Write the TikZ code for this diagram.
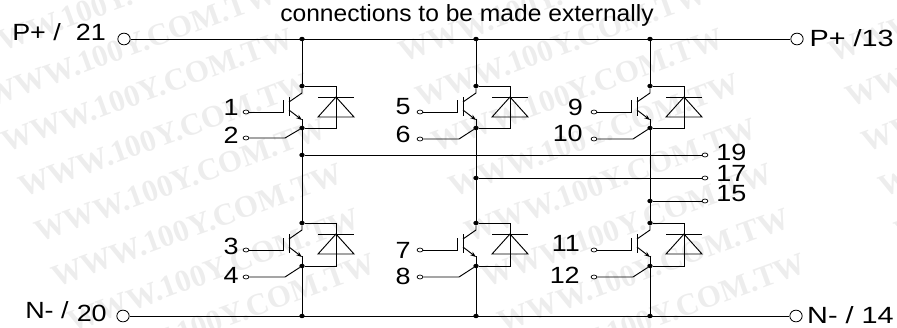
\documentclass[tikz,border=0pt]{standalone}
\usepackage{fontspec}
\setmainfont{Liberation Sans}
\newfontfamily\markfont{Liberation Serif}
\usetikzlibrary{shapes.geometric,positioning,arrows.meta}
\definecolor{markgray}{gray}{0.93}
\tikzset{
    wire/.style={line width=0.8pt},
    junction/.style={ellipse, fill=black, inner sep=0pt, minimum width=4.6pt, minimum height=3.8pt},
    pinsmall/.style={ellipse, draw, line width=0.6pt, fill=white, inner sep=0pt, minimum width=5pt, minimum height=3.4pt},
    pinbig/.style={ellipse, draw, line width=0.7pt, fill=white, inner sep=0pt, minimum width=10.5pt, minimum height=10pt},
    lab/.style={inner sep=0pt, xscale=1.15, font=\fontsize{20}{24}\selectfont},
    labwide/.style={inner sep=0pt, xscale=1.23, font=\fontsize{20}{24}\selectfont},
    note/.style={inner sep=0pt, xscale=1.05, font=\fontsize{20}{24}\selectfont}
}
\begin{document}
\begin{tikzpicture}[x=0.03cm, y=-0.03cm]
    \useasboundingbox (0,0) rectangle (897,327);
    \clip (0,0) rectangle (897,327);

    % Watermark
    \foreach \i in {0,1,2} {
        \foreach \j in {-3,...,4} {
            \node[anchor=west, inner sep=0pt, rotate=20, text=markgray, font=\markfont\bfseries\fontsize{26.5}{30}\selectfont]
                (wm\i\j) at ({3+430*\i+16.5*(\j+1)},{143+45*(\j+1)}) {WWW.100Y.COM.TW};
        }
    }

    \node[note] (caption) at (467,15) {connections to be made externally};

    % Supply rails
    \node[pinbig] (p21) at (124,39) {};
    \node[pinbig] (p13) at (797,39) {};
    \node[pinbig] (n20) at (123,316) {};
    \node[pinbig] (n14) at (796,316) {};
    \node[lab, anchor=west] (lp21) at (12,32) {P+ /\ \ 21};
    \node[labwide, anchor=east] (lp13) at (894,38) {P+ /13};
    \node[labwide, anchor=east] (ln14) at (894,315) {N- / 14};
    \node[lab, anchor=west] (ln20) at (25,310) {N- /};
    \node[lab, anchor=east] (l20) at (107,313) {20};
    \draw[wire] (p21) -- (p13);
    \draw[wire] (n20) -- (n14);

    % Transistor and diode cells
    \foreach \cell/\cx/\cy/\ey/\gy/\sy/\tx/\gate/\sense/\lx/\gly/\sly in {
        a/302/86/128/112/138/246/1/2/239/107/135,
        b/476/86/128/112/139/420/5/6/411/107/134,
        c/650/86/128/112/139/594/9/10/583/107/133,
        d/302/223/266/250/277/246/3/4/239/246/275,
        e/476/223/266/250/277/420/7/8/411/250/276,
        f/650/223/266/250/277/594/11/12/580/243/275} {
        \node[junction] (col\cell) at (\cx,\cy) {};
        \node[junction] (emi\cell) at (\cx,\ey) {};
        \node[pinsmall] (pin\gate) at (\tx,\gy) {};
        \node[pinsmall] (pin\sense) at (\tx,\sy) {};
        \node[lab, anchor=east] (lab\gate) at (\lx,\gly) {\gate};
        \node[lab, anchor=east] (lab\sense) at (\lx,\sly) {\sense};
        % gate and sense leads
        \draw[wire] (pin\gate) -- (\cx-19,\gy);
        \draw[wire] (\cx-19,\gy-12) -- (\cx-19,\gy+1);
        \draw[wire] (\cx-13,\cy+11) -- (\cx-13,\cy+30);
        \draw[wire] (pin\sense) -- (\cx-17,\sy) -- (emi\cell);
        % collector and emitter
        \draw[wire] (col\cell) -- (\cx,\cy+7) -- (\cx-13,\cy+16);
        \draw[wire, -{Stealth[length=5pt,width=3.6pt]}] (\cx-13,\cy+24) -- (\cx,\cy+34);
        \draw[wire] (\cx,\cy+33) -- (emi\cell);
        % free-wheeling diode
        \draw[wire] (col\cell) -- (\cx+34,\cy) -- (\cx+34,\ey) -- (emi\cell);
        \draw[wire] (\cx+16,\cy+11) -- (\cx+52,\cy+11);
        \draw[wire] (\cx+34,\cy+11) -- (\cx+52,\cy+31) -- (\cx+16,\cy+31) -- cycle;
    }

    % Rail taps
    \foreach \n/\cx in {1/302,2/476,3/650} {
        \node[junction] (top\n) at (\cx,39) {};
        \node[junction] (bot\n) at (\cx,316) {};
    }
    \draw[wire] (top1) -- (cola);
    \draw[wire] (top2) -- (colb);
    \draw[wire] (top3) -- (colc);
    \draw[wire] (emia) -- (cold);
    \draw[wire] (emib) -- (cole);
    \draw[wire] (emic) -- (colf);
    \draw[wire] (emid) -- (bot1);
    \draw[wire] (emie) -- (bot2);
    \draw[wire] (emif) -- (bot3);

    % Phase outputs
    \node[junction] (tap19) at (302,155) {};
    \node[junction] (tap17) at (476,178) {};
    \node[junction] (tap15) at (650,201) {};
    \foreach \n/\oy/\ly in {19/155/152,17/178/173,15/201/194} {
        \node[pinsmall] (pin\n) at (705,\oy) {};
        \node[lab, anchor=west] (lab\n) at (716,\ly) {\n};
        \draw[wire] (tap\n) -- (pin\n);
    }
\end{tikzpicture}
\end{document}
